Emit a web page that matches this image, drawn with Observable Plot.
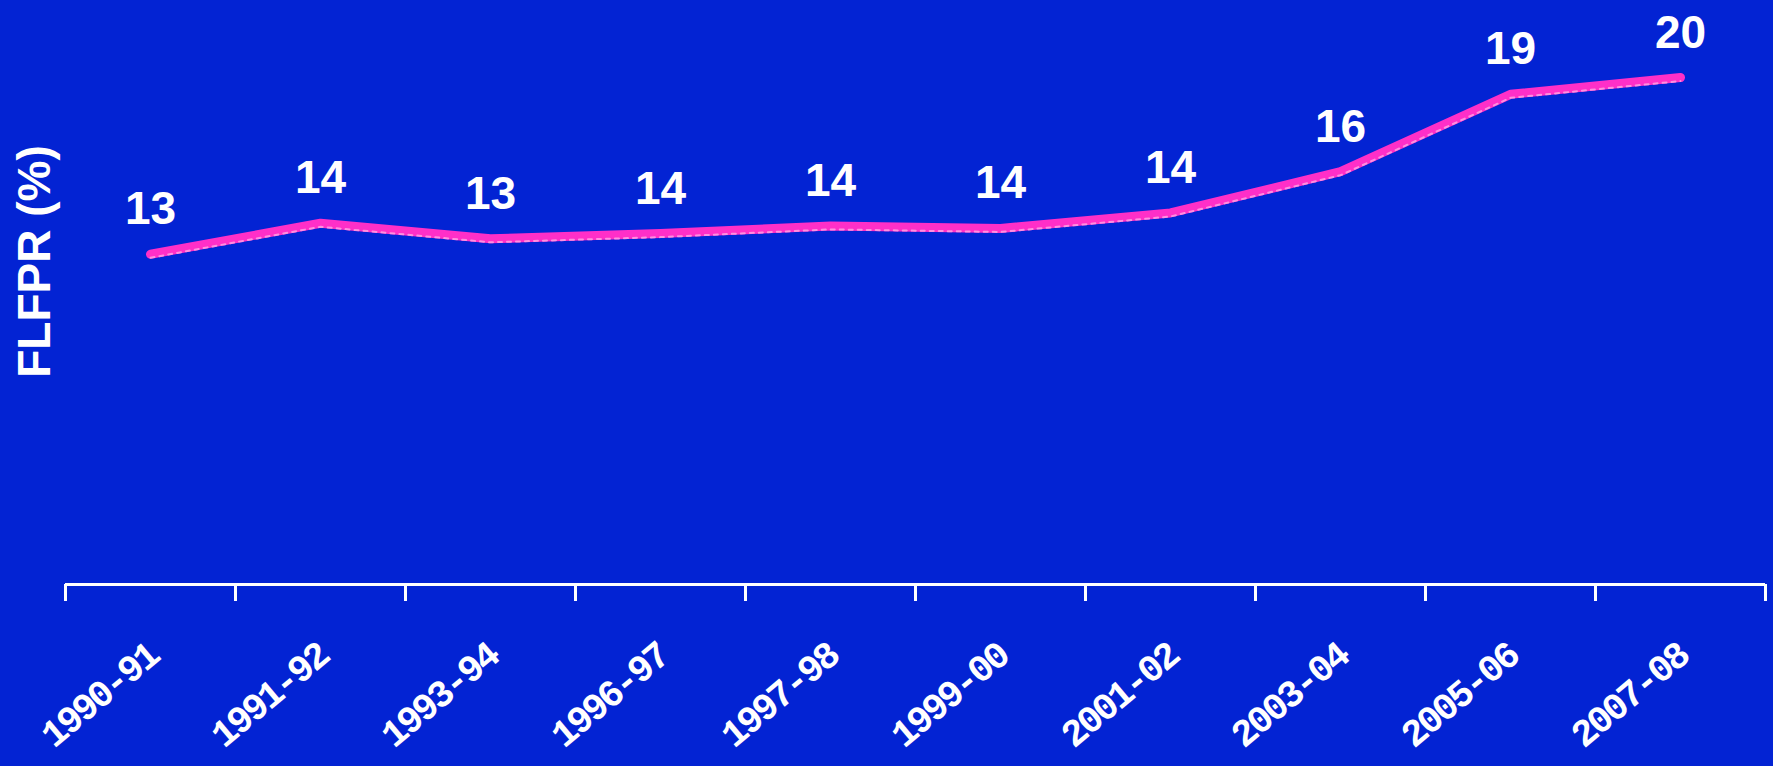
<!DOCTYPE html>
<html>
<head>
<meta charset="utf-8">
<script src="https://cdn.jsdelivr.net/npm/d3@7"></script>
<script src="https://cdn.jsdelivr.net/npm/@observablehq/plot@0.6"></script>
<style>
  html, body { margin: 0; padding: 0; background: #0323D3; }
  #chart svg { display: block; }
  #chart g[aria-label="x-axis tick label"] text { letter-spacing: -3px; }
</style>
</head>
<body>
<div id="chart"></div>
<script>
const periods = ["1990-91", "1991-92", "1993-94", "1996-97", "1997-98", "1999-00", "2001-02", "2003-04", "2005-06", "2007-08"];
const flfpr = [12.8, 14.0, 13.4, 13.6, 13.9, 13.8, 14.4, 16.0, 19.0, 19.65];
const yLabel = "FLFPR (%)";

const data = periods.map((p, i) => ({ i, period: p, value: flfpr[i] }));
const bounds = d3.range(0, periods.length + 1);
const centers = d3.range(periods.length).map(i => i + 0.5);

const chart = Plot.plot({
  width: 1773,
  height: 766,
  marginLeft: 65,
  marginRight: 8,
  marginTop: 68,
  marginBottom: 182,
  style: { background: "#0323D3", color: "white", overflow: "visible" },
  x: { type: "linear", domain: [0, periods.length], axis: null },
  y: { domain: [0, 20], axis: null },
  marks: [
    Plot.ruleY([0], { stroke: "white", strokeWidth: 3 }),
    Plot.axisX(bounds, {
      tickFormat: () => "",
      tickSize: 17,
      stroke: "white",
      strokeWidth: 3
    }),
    Plot.axisX(centers, {
      tickFormat: d => periods[Math.floor(d)],
      tickSize: 0,
      tickRotate: -40,
      tickPadding: 66,
      fontSize: 38,
      fontFamily: "Liberation Mono",
      fontWeight: "bold",
      fill: "white",
      dx: 2
    }),
    Plot.line(data, {
      x: d => d.i + 0.5,
      y: "value",
      stroke: "#FF2FC8",
      strokeWidth: 9,
      strokeLinecap: "round",
      strokeLinejoin: "round"
    }),
    Plot.line(data, {
      x: d => d.i + 0.5,
      y: "value",
      stroke: "#FF8FE0",
      strokeWidth: 2,
      strokeDasharray: "4,5",
      dy: 3.5
    }),
    Plot.text(data, {
      x: d => d.i + 0.5,
      y: "value",
      text: d => String(Math.round(d.value)),
      dy: -30,
      lineAnchor: "bottom",
      fontSize: 46,
      fontWeight: "bold",
      fontFamily: "Liberation Sans",
      fill: "white"
    }),
    Plot.text([yLabel], {
      frameAnchor: "left",
      rotate: -90,
      textAnchor: "middle",
      dx: -30,
      dy: -65,
      fontSize: 46,
      fontWeight: "bold",
      fontFamily: "Liberation Sans",
      fill: "white"
    })
  ]
});
document.getElementById("chart").append(chart);
</script>
</body>
</html>
